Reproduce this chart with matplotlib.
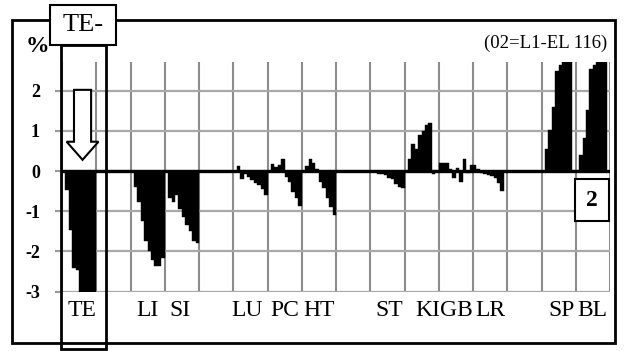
import matplotlib
matplotlib.use('Agg')
import matplotlib.pyplot as plt
import matplotlib.patches as mpatches

plt.rcParams['font.family'] = ['Liberation Serif', 'DejaVu Serif']

# organ groups: label, first slot, bar values (%)
organs = ['TE', 'LI', 'SI', 'LU', 'PC', 'HT', 'ST', 'KI', 'GB', 'LR', 'SP', 'BL']
starts = [1, 21, 31, 51, 61, 71, 91, 101, 110, 119, 141, 151]
te = [-0.48, -1.47, -2.4, -2.45, -3.3, -3.3, -3.3, -3.3, -3.3]
li = [-0.4, -0.77, -1.25, -1.74, -2.0, -2.2, -2.36, -2.36, -2.15]
si = [-0.68, -0.76, -0.6, -0.95, -1.15, -1.35, -1.5, -1.74, -1.78]
lu = [0.12, -0.19, -0.08, -0.15, -0.23, -0.3, -0.35, -0.45, -0.6]
pc = [0.18, 0.1, 0.15, 0.3, -0.15, -0.27, -0.52, -0.68, -0.88]
ht = [0.13, 0.3, 0.2, 0.05, -0.27, -0.43, -0.68, -0.9, -1.1]
st = [-0.03, -0.08, -0.08, -0.1, -0.16, -0.2, -0.33, -0.4, -0.43]
ki = [0.29, 0.68, 0.55, 0.9, 1.0, 1.15, 1.19, -0.08]
gb = [0.2, 0.2, 0.2, 0.05, -0.18, 0.07, -0.28, 0.3, -0.05]
lr = [0.16, 0.16, 0.05, -0.06, -0.08, -0.1, -0.13, -0.18, -0.3, -0.49]
sp = [0.55, 1.02, 1.6, 2.5, 2.65, 2.9, 2.9, 2.9]
bl = [0.39, 0.82, 1.53, 2.55, 2.65, 2.9, 2.9, 2.9]
groups = [te, li, si, lu, pc, ht, st, ki, gb, lr, sp, bl]
label_x = [5.8, 25, 34.4, 54, 65, 75, 95.6, 106.7, 115, 125, 145.8, 154.8]
yticks = [-3, -2, -1, 0, 1, 2]

W, H = 627, 351


def px(x, y):
    return x / W, 1 - y / H


fig = plt.figure(figsize=(6.27, 3.51), dpi=100)
ax = fig.add_axes([62 / W, 1 - 291.7 / H, (610 - 62) / W, (291.7 - 61.7) / H])

for s, vals in zip(starts, groups):
    xs = [s + i + 0.5 for i in range(len(vals))]
    ax.bar(xs, vals, width=1.0, color='black', edgecolor='black', linewidth=0.3, zorder=3)

ax.axhline(0, color='black', lw=2.4, zorder=4)
ax.set_xlim(0, 160)
ax.set_ylim(-3, 2.72)

ax.set_xticks(range(0, 161, 10), minor=True)
ax.set_xticks(label_x)
ax.set_xticklabels(organs, fontsize=17)
ax.tick_params(axis='x', which='both', length=0, pad=6)
ax.set_yticks(yticks)
ax.set_yticklabels([str(v) for v in yticks], fontsize=13, fontweight='bold')
ax.tick_params(axis='y', length=5, width=1.5, color='#9a9a9a', pad=11)
ax.grid(axis='x', which='minor', color='#8c8c8c', lw=1.5)
ax.grid(axis='y', which='major', color='#a8a8a8', lw=1.6)
for sp_ in ax.spines.values():
    sp_.set_visible(False)

# outer frame
x0, y0 = px(12, 343)
fig.add_artist(mpatches.Rectangle((x0, y0), 603 / W, 323 / H, transform=fig.transFigure,
                                  fill=False, ec='black', lw=2))
# highlight of TE column
x0, y0 = px(61, 349)
fig.add_artist(mpatches.Rectangle((x0, y0), 45 / W, 304 / H, transform=fig.transFigure,
                                  fill=False, ec='black', lw=2, zorder=5))
# TE- box
x0, y0 = px(50, 45)
fig.add_artist(mpatches.Rectangle((x0, y0), 66 / W, 40 / H, transform=fig.transFigure,
                                  fc='white', ec='black', lw=1.5, zorder=6))
fig.text(*px(83, 25), 'TE-', fontsize=19, ha='center', va='center', zorder=7)

# hollow arrow
arrow = mpatches.FancyArrow(6, 2.02, 0, -1.74, width=5, head_width=9.3, head_length=0.45,
                            length_includes_head=True, fc='white', ec='black', lw=1.5, zorder=6)
ax.add_patch(arrow)

fig.text(*px(37, 46), '%', fontsize=17, fontweight='bold', ha='center', va='center')
fig.text(*px(607, 43), '(02=L1-EL 116)', fontsize=13.5, ha='right', va='center')

# panel number
x0, y0 = px(575, 221)
fig.add_artist(mpatches.Rectangle((x0, y0), 34 / W, 42 / H, transform=fig.transFigure,
                                  fc='white', ec='black', lw=1.5, zorder=6))
fig.text(*px(592, 201), '2', fontsize=17, fontweight='bold', ha='center', va='center', zorder=7)

fig.savefig('out.png', dpi=100, facecolor='white')
